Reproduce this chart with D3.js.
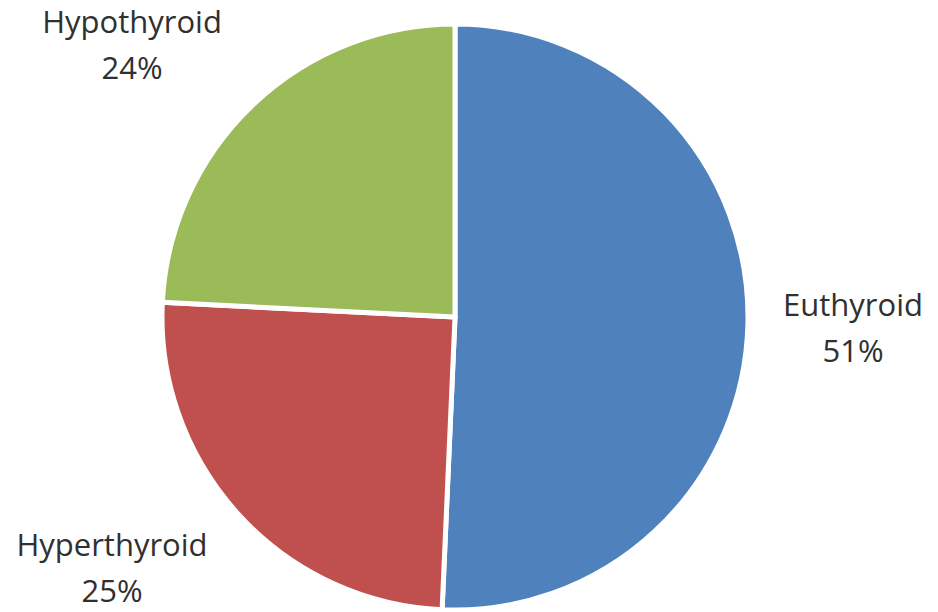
<!DOCTYPE html>
<html><head><meta charset="utf-8">
<script src="https://cdn.jsdelivr.net/npm/d3@7"></script>
<style>html,body{margin:0;padding:0;background:#fff;}</style>
</head><body>
<svg id="c" width="938" height="612"></svg>
<script>
const categories = ["Euthyroid", "Hyperthyroid", "Hypothyroid"];
const values = [50.7, 25.1, 24.2];
const labels = ["51%", "25%", "24%"];
const colors = ["#4F81BD", "#C0504D", "#9BBB59"];

// label placement (layout, not data)
const labelPos = [[853, 316], [112, 556], [132, 33]];

const svg = d3.select("#c");
const cx = 455, cy = 317, r = 293;
const g = svg.append("g").attr("transform", `translate(${cx},${cy})`);
const pie = d3.pie().sort(null).value(d => d)(values);
const arc = d3.arc().innerRadius(0).outerRadius(r);
g.selectAll("path").data(pie).join("path")
  .attr("d", arc)
  .attr("fill", (d, i) => colors[i])
  .attr("stroke", "#fff").attr("stroke-width", 5).attr("stroke-linejoin", "round");

const t = svg.selectAll("text.lbl").data(categories).join("text")
  .attr("class", "lbl")
  .attr("x", (d, i) => labelPos[i][0]).attr("y", (d, i) => labelPos[i][1])
  .attr("text-anchor", "middle")
  .attr("font-family", "'Open Sans', sans-serif")
  .attr("font-size", 31).attr("fill", "#303030");
t.append("tspan").text(d => d);
t.append("tspan").attr("x", (d, i) => labelPos[i][0]).attr("dy", 46).text((d, i) => labels[i]);
</script>
</body></html>
